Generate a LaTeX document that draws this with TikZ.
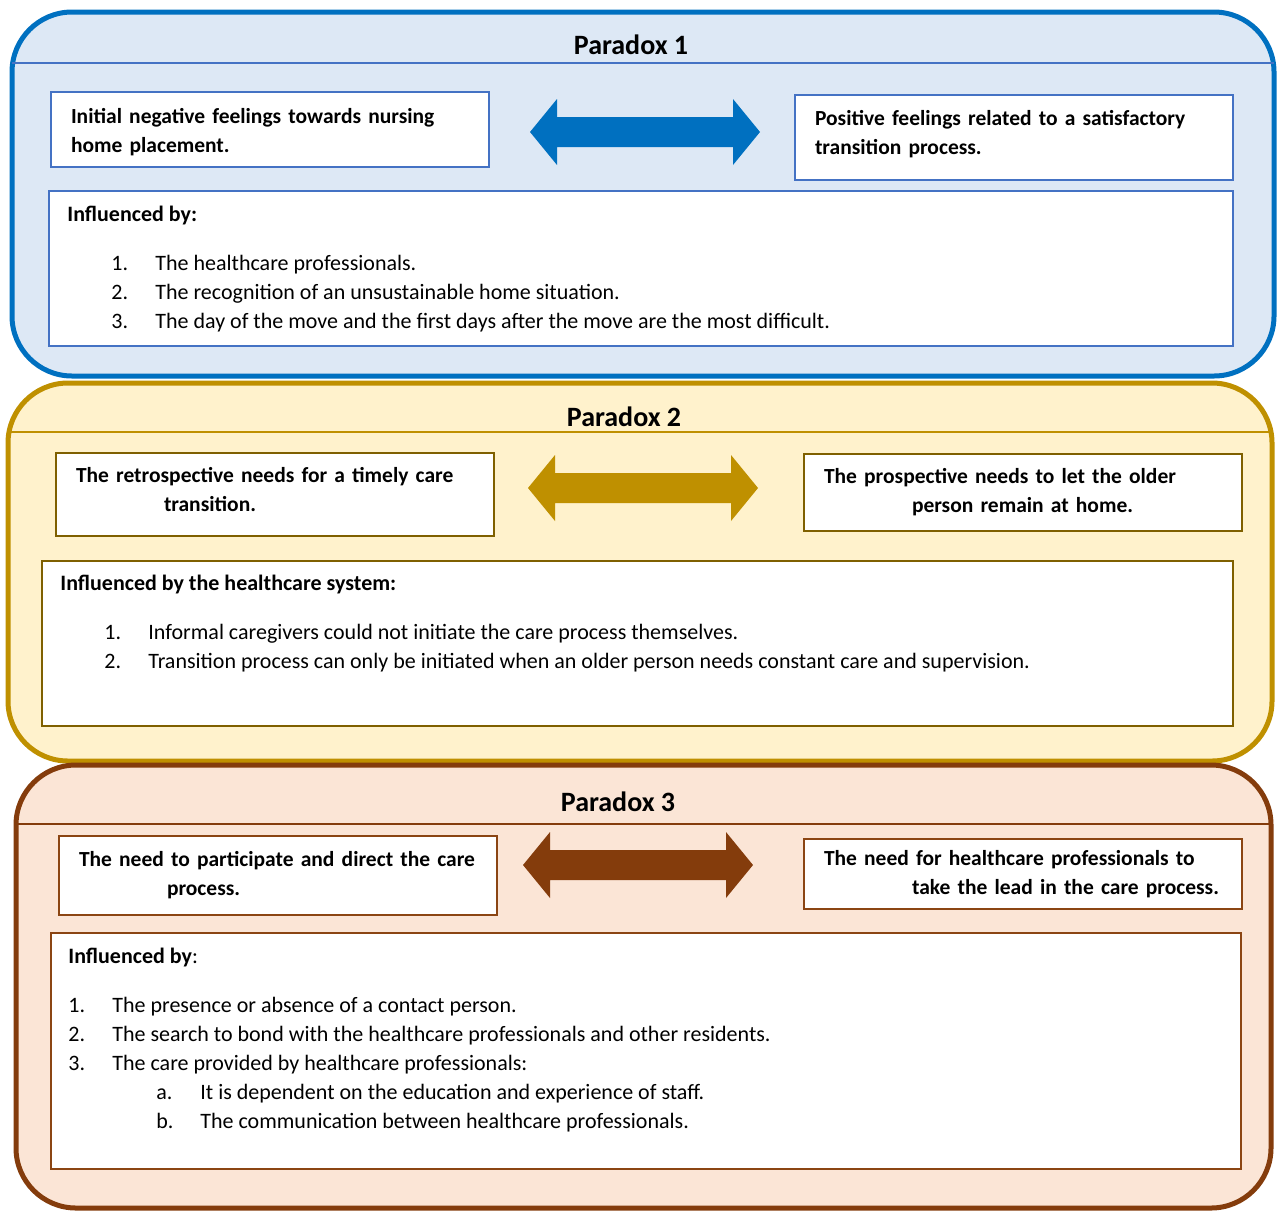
\documentclass[tikz,border=0pt]{standalone}
\usepackage{fontspec}
\setmainfont{Carlito}
\usetikzlibrary{positioning}

\definecolor{blueline}{HTML}{0070C0}
\definecolor{bluefill}{HTML}{DDE8F5}
\definecolor{bluebox}{HTML}{4472C4}
\definecolor{goldline}{HTML}{BF9000}
\definecolor{goldfill}{HTML}{FFF2CC}
\definecolor{goldbox}{HTML}{7F6000}
\definecolor{brownline}{HTML}{843C0C}
\definecolor{brownfill}{HTML}{FBE5D6}
\definecolor{brownbox}{HTML}{8B4513}

\newcommand{\litem}[3]{\hspace*{#1}\makebox[22pt][l]{#2}#3}

\begin{document}
\begin{tikzpicture}[x=0.5pt,y=-0.5pt,
  panel/.style={line width=2.5pt, rounded corners=30pt},
  hline/.style={line width=1pt},
  sidebox/.style={draw, fill=white, line width=1pt, anchor=north west,
    minimum width=219pt, inner xsep=10pt, text width=199pt, align=left,
    font=\bfseries\fontsize{10.75}{14.5}\selectfont},
  infbox/.style={draw, fill=white, line width=1pt, anchor=north west, inner sep=0pt},
  inftext/.style={inner sep=0pt, align=left, font=\fontsize{11}{14.5}\selectfont},
  title/.style={font=\bfseries\fontsize{14}{16}\selectfont},
  pics/dblarrow/.style={code={\fill[#1] (-115,0) -- (-88,-33) -- (-88,-15)
    -- (88,-15) -- (88,-33) -- (115,0) -- (88,33) -- (88,15) -- (-88,15)
    -- (-88,33) -- cycle;}}]
  \useasboundingbox (0,0) rectangle (1278,1211);

  % Paradox 1
  \draw[panel, draw=blueline, fill=bluefill] (12,12) rectangle (1274,376);
  \draw[hline, bluebox] (12,63) -- (1274,63);
  \node[title] (tit1) at (631,45) {Paradox 1};
  \node[sidebox, draw=bluebox, minimum height=37.5pt] (neg) at (50,91)
    {\rule{0pt}{10.5pt}\mbox{Initial negative feelings towards nursing}\\\mbox{home placement.}};
  \node[sidebox, draw=bluebox, minimum height=42.5pt] (pos) at (794,94)
    {\mbox{Positive feelings related to a satisfactory}\\\mbox{transition process.}\rule[-5.2pt]{0pt}{0pt}};
  \pic (arr1) at (645,132) {dblarrow=blueline};
  \node[infbox, draw=bluebox, minimum width=592pt, minimum height=77.5pt] (inf1) at (48,190) {};
  \node[inftext, below right=8pt and 9.5pt of inf1.north west] (txt1)
    {\textbf{Influenced by:}\\[10pt]
     \litem{22pt}{1.}{The healthcare professionals.}\\
     \litem{22pt}{2.}{The recognition of an unsustainable home situation.}\\
     \litem{22pt}{3.}{The day of the move and the first days after the move are the most difficult.}};

  % Paradox 2
  \draw[panel, draw=goldline, fill=goldfill] (8,383) rectangle (1272,761);
  \draw[hline, goldline] (8,432) -- (1272,432);
  \node[title] (tit2) at (624,417) {Paradox 2};
  \node[sidebox, draw=goldbox, minimum height=41.5pt] (retro) at (55,452)
    {\mbox{The retrospective needs for a timely care}\\\hspace*{44pt}\mbox{transition.}\rule[-5pt]{0pt}{0pt}};
  \node[sidebox, draw=goldbox, minimum height=38.5pt] (prosp) at (803,453)
    {\mbox{The prospective needs to let the older}\\\hspace*{44pt}\mbox{person remain at home.}};
  \pic (arr2) at (643,488) {dblarrow=goldline};
  \node[infbox, draw=goldbox, minimum width=595.5pt, minimum height=82.5pt] (inf2) at (41,560) {};
  \node[inftext, below right=7.5pt and 9.5pt of inf2.north west] (txt2)
    {\textbf{Influenced by the healthcare system:}\\[10pt]
     \litem{22pt}{1.}{Informal caregivers could not initiate the care process themselves.}\\
     \litem{22pt}{2.}{Transition process can only be initiated when an older person needs constant care and supervision.}};

  % Paradox 3
  \draw[panel, draw=brownline, fill=brownfill] (16,765) rectangle (1271,1208);
  \draw[hline, brownline] (16,824) -- (1271,824);
  \node[title] (tit3) at (618,802) {Paradox 3};
  \node[sidebox, draw=brownbox, minimum height=39.5pt] (part) at (58,835)
    {\mbox{The need to participate and direct the care}\\\hspace*{44pt}\mbox{process.}};
  \node[sidebox, draw=brownbox, minimum height=35pt] (lead) at (803,838)
    {\mbox{The need for healthcare professionals to}\\\hspace*{44pt}\mbox{take the lead in the care process.}};
  \pic (arr3) at (638,865) {dblarrow=brownline};
  \node[infbox, draw=brownbox, minimum width=595pt, minimum height=118pt] (inf3) at (50,932) {};
  \node[inftext, below right=8pt and 9pt of inf3.north west] (txt3)
    {\textbf{Influenced by}:\\[10pt]
     \litem{0pt}{1.}{The presence or absence of a contact person.}\\
     \litem{0pt}{2.}{The search to bond with the healthcare professionals and other residents.}\\
     \litem{0pt}{3.}{The care provided by healthcare professionals:}\\
     \litem{44pt}{a.}{It is dependent on the education and experience of staff.}\\
     \litem{44pt}{b.}{The communication between healthcare professionals.}};
\end{tikzpicture}
\end{document}
